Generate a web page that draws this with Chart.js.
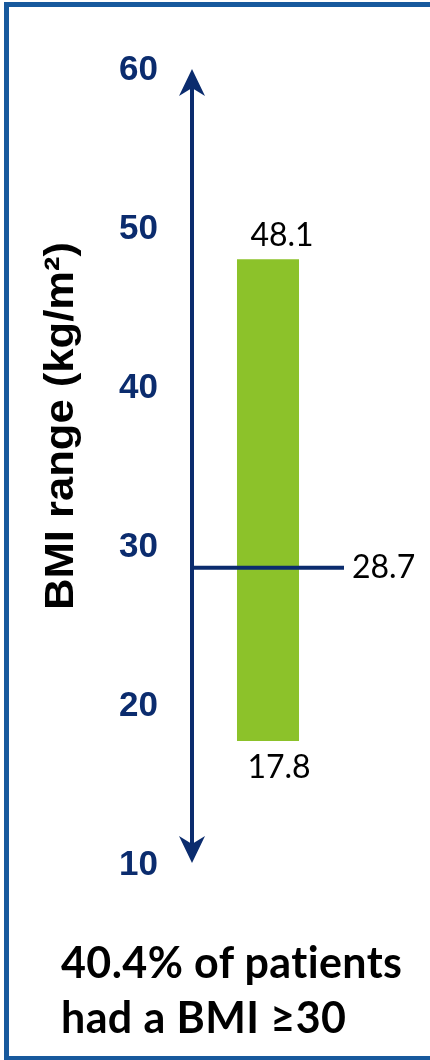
<!DOCTYPE html>
<html>
<head>
<meta charset="utf-8">
<script src="https://cdn.jsdelivr.net/npm/chart.js@4.4.1/dist/chart.umd.min.js"></script>
<style>
  body { margin: 0; background: #fff; }
  #wrap { position: relative; width: 430px; height: 1060px; overflow: hidden; }
  #frame { position: absolute; left: 4px; top: 2px; width: 500px; height: 1049px; border: 5px solid #17599d; }
  #mycanvas { position: absolute; left: 0; top: 0; }
  #note { position: absolute; left: 61px; top: 934px; font: bold 43px Lato, sans-serif; line-height: 55px; letter-spacing: 0.4px; color: #000; white-space: nowrap; }
</style>
</head>
<body>
<div id="wrap">
  <div id="frame"></div>
  <canvas id="mycanvas" width="430" height="1060"></canvas>
  <div id="note">40.4% of patients<br>had a BMI &ge;30</div>
</div>
<script>
var categories = ['BMI'];
var rangeLow = [17.8];
var rangeHigh = [48.1];
var meanValues = [28.7];
var yTicks = [10, 20, 30, 40, 50, 60];
var axisTitle = 'BMI range (kg/m\u00B2)';

var navy = '#0b2c6e';
var green = '#8cc22a';

var ranges = [];
for (var i in categories) {
	ranges.push([rangeLow[i], rangeHigh[i]]);
}

// arrowed y axis, mean line and value labels
var extras = {
	id: 'extras',
	afterDatasetsDraw: function(chart) {
		var ctx = chart.ctx;
		var area = chart.chartArea;
		var y = chart.scales.y;
		var x0 = area.left;
		var top = y.getPixelForValue(yTicks[yTicks.length - 1]) - 1;
		var bottom = y.getPixelForValue(yTicks[0]) - 2;

		ctx.save();
		ctx.strokeStyle = navy;
		ctx.fillStyle = navy;
		ctx.lineWidth = 4;
		ctx.beginPath();
		ctx.moveTo(x0, top + 12);
		ctx.lineTo(x0, bottom - 12);
		ctx.stroke();

		// arrow heads
		ctx.beginPath();
		ctx.moveTo(x0, top);
		ctx.lineTo(x0 + 13, top + 27);
		ctx.lineTo(x0, top + 19);
		ctx.lineTo(x0 - 13, top + 27);
		ctx.closePath();
		ctx.fill();
		ctx.beginPath();
		ctx.moveTo(x0, bottom);
		ctx.lineTo(x0 + 13, bottom - 27);
		ctx.lineTo(x0, bottom - 19);
		ctx.lineTo(x0 - 13, bottom - 27);
		ctx.closePath();
		ctx.fill();

		// mean line
		var my = y.getPixelForValue(meanValues[0]);
		ctx.beginPath();
		ctx.moveTo(x0, my);
		ctx.lineTo(area.right, my);
		ctx.stroke();

		ctx.fillStyle = '#000';
		ctx.font = '32px Lato, sans-serif';
		ctx.textBaseline = 'middle';
		ctx.textAlign = 'left';
		ctx.fillText(meanValues[0].toFixed(1), area.right + 8, my);

		var bar = chart.getDatasetMeta(0).data[0];
		ctx.textAlign = 'center';
		ctx.textBaseline = 'alphabetic';
		ctx.fillText(rangeHigh[0].toFixed(1), bar.x + 14, bar.y - 13);
		ctx.fillText(rangeLow[0].toFixed(1), bar.x + 11, bar.base + 37);

		// axis title, a little stretched along the axis
		ctx.translate(62, 426);
		ctx.rotate(-Math.PI / 2);
		ctx.scale(1.09, 1);
		ctx.font = 'bold 40px "Liberation Sans", Arial, sans-serif';
		ctx.textBaseline = 'middle';
		ctx.fillText(axisTitle, 0, 0);
		ctx.restore();
	}
};

var chartdata = {
	labels: categories,
	datasets: [
		{
			label: 'BMI range',
			backgroundColor: green,
			borderWidth: 0,
			barPercentage: 0.408,
			categoryPercentage: 1,
			data: ranges
		}
	]
};

var ctx = document.getElementById('mycanvas');

var RangeChart = new Chart(ctx, {
	type: 'bar',
	data: chartdata,
	plugins: [extras],
	options: {
		responsive: false,
		animation: false,
		layout: { padding: { left: 0, right: 86, top: 70, bottom: 195 } },
		plugins: {
			legend: { display: false },
			tooltip: { enabled: false }
		},
		scales: {
			x: { display: false },
			y: {
				min: yTicks[0],
				max: yTicks[yTicks.length - 1],
				afterFit: function(scale) { scale.width = 192; },
				afterBuildTicks: function(scale) {
					scale.ticks = yTicks.map(function(v) { return { value: v }; });
				},
				grid: { display: false, drawTicks: false },
				border: { display: false },
				ticks: {
					padding: 34,
					color: navy,
					font: { family: '"Liberation Sans", Arial, sans-serif', size: 35, weight: 'bold' }
				}
			}
		}
	}
});
</script>
</body>
</html>
